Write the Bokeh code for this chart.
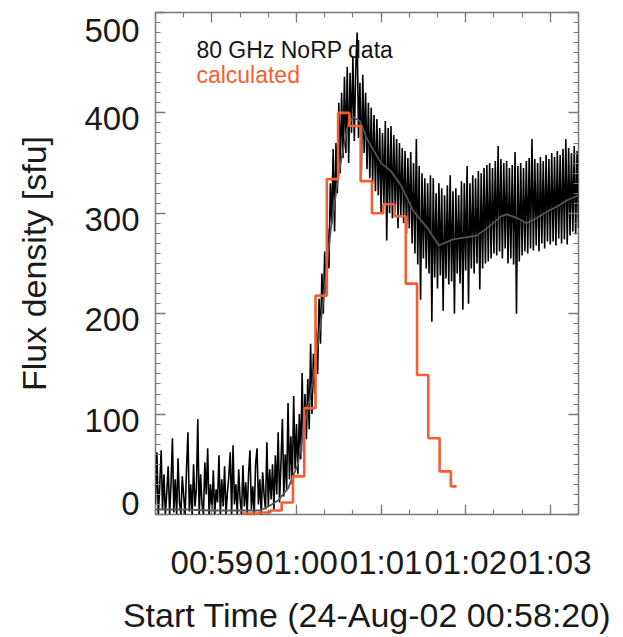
from bokeh.plotting import figure
from bokeh.models import FixedTicker, SingleIntervalTicker, LinearAxis, Label, AllLabels, Range1d
from bokeh.embed import file_html
from bokeh.resources import INLINE

# ---- data (seconds after 24-Aug-02 00:58:20) ----
norp_t = list(range(0, 301))
norp_flux = [
    10, 62, 0, 28, 64, 5, 40, 0, 22, 48,
    0, 30, 76, 2, 35, 0, 56, 12, 0, 38,
    18, 0, 45, 82, 3, 30, 0, 50, 8, 25,
    95, 0, 40, 10, 0, 52, 20, 66, 0, 30,
    5, 44, 0, 25, 12, 59, 0, 35, 8, 48,
    0, 22, 38, 62, 0, 69, 10, 30, 0, 45,
    15, 0, 49, 8, 32, 0, 40, 64, 5, 28,
    0, 50, 66, 10, 35, 0, 42, 20, 5, 72,
    8, 45, 15, 50, 5, 59, 20, 82, 12, 52, 95, 18, 60, 25, 111, 35, 78, 30, 118, 45, 90,
    40, 100, 55, 141, 62, 120, 75, 135, 85, 170, 100, 160, 120, 185, 140, 215, 170, 240, 200, 262,
    220, 285, 245, 330, 290, 364, 282, 370, 320, 410, 340, 420, 355, 436, 360, 446, 350, 440, 380, 455,
    372, 443, 480, 375, 430, 340, 438, 360, 420, 344, 410, 335, 405, 330, 398, 322, 394, 318, 385, 300,
    380, 310, 392, 273, 385, 300, 387, 295, 378, 302, 374, 285, 370, 298, 365, 290, 362, 280, 355, 285,
    361, 270, 350, 260, 374, 249, 347, 214, 340, 255, 335, 245, 330, 240, 338, 192, 335, 236, 320, 225,
    330, 238, 325, 203, 318, 235, 328, 229, 338, 232, 322, 200, 325, 240, 318, 230, 332, 204, 330, 243,
    347, 210, 330, 245, 338, 240, 335, 250, 342, 224, 340, 245, 345, 250, 348, 252, 350, 255, 345, 260,
    352, 258, 367, 262, 354, 255, 350, 265, 352, 250, 345, 255, 348, 249, 361, 200, 347, 252, 350, 258,
    345, 262, 352, 260, 355, 265, 374, 263, 354, 268, 350, 262, 356, 270, 352, 265, 358, 272, 354, 269,
    360, 272, 356, 268, 362, 275, 358, 270, 364, 274, 374, 269, 365, 278, 360, 282, 367, 279, 362, 285,
]

smooth_t = [0, 20, 40, 60, 74, 80, 87, 94, 101, 104, 111, 118, 124, 130, 136, 140, 145, 150,
            160, 167, 174, 183, 193, 201, 211, 220, 228, 235, 245, 249, 257, 263, 270, 277,
            285, 292, 300]
smooth_flux = [5, 5, 4, 4, 4, 8, 14, 26, 50, 75, 128, 200, 280, 340, 385, 396, 392, 374,
               350, 342, 328, 302, 285, 268, 274, 276, 278, 285, 297, 299, 295, 290, 295, 301,
               307, 313, 318]

calc_t = [61.5, 69.5, 77.5, 85.5, 93.5, 101.5, 109.5, 117.5, 125.5, 133.5,
          141.5, 149.5, 157.5, 165.5, 173.5, 181.5, 189.5, 197.5, 205.5, 213.5]
calc_flux = [1, 1, 2, 4, 12, 38, 106, 218, 334, 400,
             387, 332, 300, 309, 297, 230, 139, 76, 43, 28]

x_major = [40, 100, 160, 220, 280]
x_minor = [0, 20, 40, 60, 80, 100, 120, 140, 160, 180, 200, 220, 240, 260, 280, 300]
x_tick_labels = ["00:59", "01:00", "01:01", "01:02", "01:03"]

y_major = [0, 100, 200, 300, 400, 500]
y_tick_labels = ["0", "100", "200", "300", "400", "500"]

FONT = "Liberation Sans"
ORANGE = "#F65E30"
FRAME_C = "#7a7a7a"
TXT = "#1a1a1a"

W, H = 615, 636
BORDER_L, BORDER_R, BORDER_T, BORDER_B = 155, 37, 12, 116
Y0, Y1 = 0, 500

# IDL-style placement of the y tick labels: slightly below their ticks,
# with the end labels pulled inside the axis range
frame_h = H - BORDER_T - BORDER_B
px_per_unit = frame_h / (Y1 - Y0)
label_drop_px = 6
zero_lift_px = 11
top_drop_px = 12
shift = label_drop_px / px_per_unit

def label_pos(v):
    if v == Y0:
        return v + shift + zero_lift_px / px_per_unit
    if v == Y1:
        return v - top_drop_px / px_per_unit
    return v

label_ticks = [label_pos(v) for v in y_major]

p = figure(width=W, height=H, x_range=(0, 300), y_range=(Y0, Y1),
           output_backend="svg", toolbar_location=None,
           min_border_left=BORDER_L, min_border_right=BORDER_R,
           min_border_top=BORDER_T, min_border_bottom=BORDER_B)
p.extra_y_ranges = {"labels": Range1d(Y0 + shift, Y1 + shift)}
p.xgrid.visible = False
p.ygrid.visible = False
p.outline_line_color = FRAME_C
p.outline_line_width = 1.5
p.background_fill_color = "white"
p.border_fill_color = "white"

xt = FixedTicker(ticks=x_major, minor_ticks=x_minor)
yt = SingleIntervalTicker(interval=100, num_minor_ticks=10)

def style(ax, labels=True):
    ax.axis_line_color = None
    ax.major_tick_line_color = FRAME_C
    ax.minor_tick_line_color = FRAME_C
    ax.major_tick_line_width = 1.3
    ax.minor_tick_line_width = 1.2
    ax.major_tick_in = 10
    ax.major_tick_out = 0
    ax.minor_tick_in = 5
    ax.minor_tick_out = 0
    ax.axis_label_text_font = FONT
    ax.axis_label_text_font_size = "34px"
    ax.axis_label_text_font_style = "normal"
    ax.axis_label_text_color = TXT
    if labels:
        ax.major_label_text_font = FONT
        ax.major_label_text_font_size = "33px"
        ax.major_label_text_color = TXT
    else:
        ax.major_label_text_font_size = "0px"
        ax.major_label_text_color = None
        ax.major_label_text_alpha = 0
        ax.major_label_standoff = 0

xa = p.xaxis[0]
xa.ticker = xt
xa.major_label_overrides = {t: lab for t, lab in zip(x_major, x_tick_labels)}
xa.major_label_policy = AllLabels()
xa.axis_label = "Start Time (24-Aug-02 00:58:20)"
style(xa)
xa.major_label_standoff = 29
xa.axis_label_standoff = 12

# left ticks (inner, no labels)
ya = p.yaxis[0]
ya.ticker = yt
style(ya, labels=False)

# left tick labels + axis title (outer axis, no tick marks)
ylab = LinearAxis(y_range_name="labels",
                  ticker=FixedTicker(ticks=label_ticks, minor_ticks=[]),
                  axis_label="Flux density [sfu]")
style(ylab)
ylab.major_tick_line_color = None
ylab.minor_tick_line_color = None
ylab.major_label_overrides = {t: lab for t, lab in zip(label_ticks, y_tick_labels)}
ylab.major_label_policy = AllLabels()
ylab.major_label_standoff = 16
ylab.axis_label_standoff = 28
p.add_layout(ylab, "left")

top = LinearAxis(ticker=xt)
style(top, labels=False)
p.add_layout(top, "above")
right = LinearAxis(ticker=yt)
style(right, labels=False)
p.add_layout(right, "right")

p.line(norp_t, norp_flux, line_color="black", line_width=1.6)
p.line(smooth_t, smooth_flux, line_color="#555555", line_width=1.8)
p.step(calc_t, calc_flux, mode="center", line_color=ORANGE, line_width=2.6)

p.add_layout(Label(x=29, y=450, text="80 GHz NoRP data", text_font=FONT,
                   text_font_size="23px", text_color="#151515"))
p.add_layout(Label(x=29, y=425, text="calculated", text_font=FONT,
                   text_font_size="23px", text_color=ORANGE))

open("out.html", "w").write(file_html(p, INLINE))
